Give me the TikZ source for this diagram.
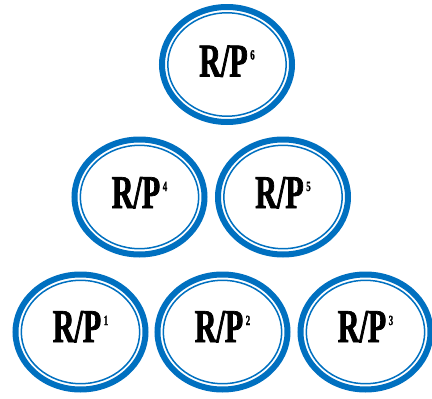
\documentclass[tikz,border=0pt]{standalone}
\usepackage{fontspec}
\usetikzlibrary{shapes.geometric}
\newfontfamily\rpfont{Liberation Serif}[FakeStretch=0.64, FakeBold=1.5]
\definecolor{ringblue}{HTML}{0070C0}
\newcommand{\rplabel}[1]{R/P\kern2.5pt\raisebox{17pt}{\fontsize{14}{14}\selectfont #1}}

\begin{document}
\begin{tikzpicture}[x=1pt, y=-1pt, every node/.style={font=\rpfont\bfseries\fontsize{47}{47}\selectfont},
  ring/.style={ellipse, draw=ringblue, line width=6pt, minimum width=130pt, minimum height=115pt, inner sep=0pt},
  thinring/.style={draw=ringblue, line width=1.5pt},
  rp/.style={anchor=base, inner sep=0pt}]
  \useasboundingbox (0,0) rectangle (432,399);

  \node[ring] (R6) at (227,64.5) {};
  \node[ring] (R4) at (139.5,197) {};
  \node[ring] (R5) at (283,197) {};
  \node[ring] (R1) at (80.5,332) {};
  \node[ring] (R2) at (222.5,332) {};
  \node[ring] (R3) at (365.5,332) {};

  \draw[thinring] (R6.center) ellipse [x radius=59.2, y radius=51.7];
  \draw[thinring] (R4.center) ellipse [x radius=59.2, y radius=51.7];
  \draw[thinring] (R5.center) ellipse [x radius=59.2, y radius=51.7];
  \draw[thinring] (R1.center) ellipse [x radius=59.2, y radius=51.7];
  \draw[thinring] (R2.center) ellipse [x radius=59.2, y radius=51.7];
  \draw[thinring] (R3.center) ellipse [x radius=59.2, y radius=51.7];

  \node[rp] (T6) at ([yshift=-12pt]R6.center) {\rplabel{6}};
  \node[rp] (T4) at ([yshift=-11pt]R4.center) {\rplabel{4}};
  \node[rp] (T5) at ([yshift=-11pt]R5.center) {\rplabel{5}};
  \node[rp] (T1) at ([yshift=-10pt]R1.center) {\rplabel{1}};
  \node[rp] (T2) at ([yshift=-10pt]R2.center) {\rplabel{2}};
  \node[rp] (T3) at ([yshift=-10pt]R3.center) {\rplabel{3}};
\end{tikzpicture}
\end{document}
